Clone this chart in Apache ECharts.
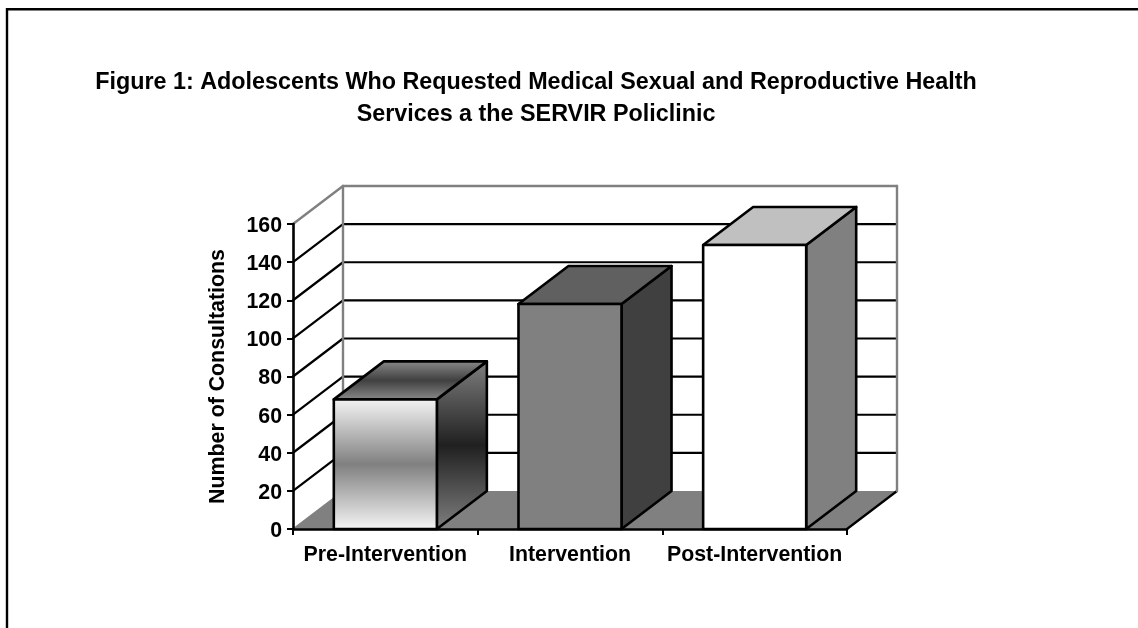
<!DOCTYPE html>
<html>
<head>
<meta charset="utf-8">
<style>html,body{margin:0;padding:0;background:#fff}#c{width:1138px;height:628px}</style>
<script src="https://cdn.jsdelivr.net/npm/echarts@6/dist/echarts.min.js"></script>
</head>
<body>
<div id="c"></div>
<script>
const categories = ['Pre-Intervention', 'Intervention', 'Post-Intervention'];
const consultations = [68, 118, 149];
const yTicks = [0, 20, 40, 60, 80, 100, 120, 140, 160];
const titleText = 'Figure 1: Adolescents Who Requested Medical Sexual and Reproductive Health\nServices a the SERVIR Policlinic';
const yName = 'Number of Consultations';

const DX = 50, DY = 38, BAR_RATIO = 0.558, LW = 2.2;
const FONT = '"Liberation Sans", Arial, sans-serif';
const vGrad = (a, b, c) => ({type:'linear',x:0,y:0,x2:0,y2:1,colorStops:[{offset:0,color:a},{offset:.5,color:b},{offset:1,color:c}]});
const barStyles = [
  {front: vGrad('#f6f6f6','#808080','#f6f6f6'), top: vGrad('#8c8c8c','#404040','#8c8c8c'), side: vGrad('#808080','#202020','#808080')},
  {front:'#808080', top:'#606060', side:'#404040'},
  {front:'#ffffff', top:'#c0c0c0', side:'#808080'}
];

function line(x1,y1,x2,y2,color,w){
  return {type:'line',shape:{x1,y1,x2,y2},style:{stroke:color,lineWidth:w||LW,lineCap:'round'},silent:true};
}
function renderWall(params, api){
  const cs = params.coordSys, v = api.value(1);
  const y = api.coord([0, v])[1];
  const x0 = cs.x, x1 = cs.x + cs.width;
  const kids = [];
  if (v === yTicks[0]) {
    kids.push({type:'polygon',shape:{points:[[x0,y],[x1,y],[x1+DX,y-DY],[x0+DX,y-DY]]},style:{fill:'#808080'},silent:true});
    kids.push(line(x0,y,x0+DX,y-DY,'#808080',1.5));
    kids.push(line(x1,y,x1+DX,y-DY,'#000',LW));
  } else if (v === yTicks[yTicks.length-1]) {
    const yb = api.coord([0, yTicks[0]])[1] - DY;
    kids.push(line(x0,y,x0+DX,y-DY,'#808080',2.4));
    kids.push(line(x0+DX,y-DY,x1+DX,y-DY,'#808080',2.4));
    kids.push(line(x0+DX,y-DY,x0+DX,yb,'#808080',2.4));
    kids.push(line(x1+DX,y-DY,x1+DX,yb,'#808080',2.4));
  } else {
    kids.push(line(x0,y,x0+DX,y-DY,'#000'));
    kids.push(line(x0+DX,y-DY,x1+DX,y-DY,'#000'));
  }
  return {type:'group',children:kids};
}
function renderBar(params, api){
  const i = api.value(0);
  const c = api.coord([i, api.value(1)]);
  const base = api.coord([i, 0])[1];
  const w = api.size([1,0])[0] * BAR_RATIO;
  const l = c[0]-w/2, r = c[0]+w/2, t = c[1], s = barStyles[i];
  const stroke = {stroke:'#000',lineWidth:2.6,lineJoin:'round'};
  return {type:'group',children:[
    {type:'polygon',shape:{points:[[r,t],[r+DX,t-DY],[r+DX,base-DY],[r,base]]},style:Object.assign({fill:s.side},stroke)},
    {type:'polygon',shape:{points:[[l,t],[l+DX,t-DY],[r+DX,t-DY],[r,t]]},style:Object.assign({fill:s.top},stroke)},
    {type:'polygon',shape:{points:[[l,t],[r,t],[r,base],[l,base]]},style:Object.assign({fill:s.front},stroke)}
  ]};
}

const chart = echarts.init(document.getElementById('c'), null, {renderer:'canvas'});
chart.setOption({
  animation:false,
  backgroundColor:'#fff',
  title:{
    text:titleText, left:531, top:62, textAlign:'center',
    textStyle:{fontFamily:FONT,fontWeight:'bold',fontSize:17.5*4/3,color:'#000',lineHeight:32}
  },
  graphic:[{type:'polyline',shape:{points:[[7,628],[7,9.3],[1138,9.3]]},style:{stroke:'#000',lineWidth:2.4,fill:null},silent:true}],
  grid:{left:293,right:291,top:224,bottom:99,containLabel:false},
  xAxis:{
    type:'category',data:categories,boundaryGap:true,z:10,
    axisLine:{lineStyle:{color:'#000',width:2.6}},
    axisTick:{show:true,alignWithLabel:false,length:6,lineStyle:{color:'#000',width:2}},
    axisLabel:{interval:0,margin:16,fontFamily:FONT,fontWeight:'bold',fontSize:64/3,color:'#000'}
  },
  yAxis:{
    type:'value',min:0,max:160,interval:20,z:10,
    name:yName,nameLocation:'middle',nameGap:64,nameRotate:90,
    nameTextStyle:{fontFamily:FONT,fontWeight:'bold',fontSize:64/3,color:'#000'},
    axisLine:{show:true,lineStyle:{color:'#000',width:2.6}},
    axisTick:{show:true,length:6,lineStyle:{color:'#000',width:2}},
    axisLabel:{margin:11,verticalAlign:'top',lineHeight:4,fontFamily:FONT,fontWeight:'bold',fontSize:64/3,color:'#000'},
    splitLine:{show:false}
  },
  series:[
    {type:'custom',renderItem:renderWall,data:yTicks.map(v=>[0,v]),encode:{x:0,y:1},z:1,clip:false,silent:true},
    {type:'custom',renderItem:renderBar,data:consultations.map((v,i)=>[i,v]),encode:{x:0,y:1},z:3,clip:false,silent:true}
  ]
});
</script>
</body>
</html>
